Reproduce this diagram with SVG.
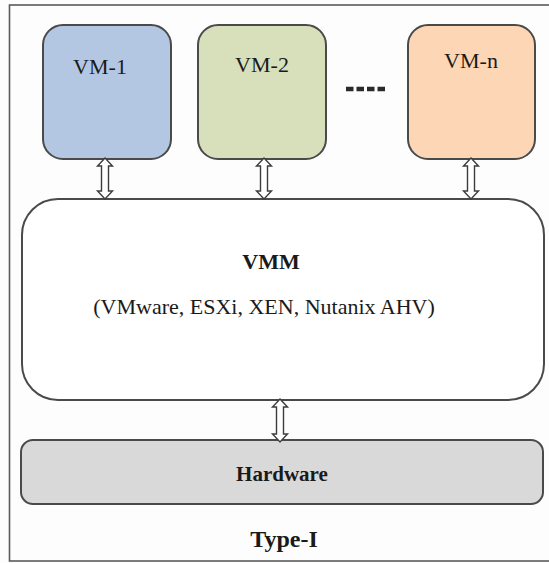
<svg xmlns="http://www.w3.org/2000/svg" xmlns:xlink="http://www.w3.org/1999/xlink" width="549" height="563" viewBox="0 0 549 563">
  <style>
    .box { stroke: #4a4a4a; stroke-width: 2; }
    .lbl { font-family: "Liberation Serif", "Times New Roman", serif; font-size: 22px; fill: #1a1a1a; text-anchor: middle; }
    .bold { font-weight: bold; }
    .arrow { fill: #ffffff; stroke: #3c3c3c; stroke-width: 1.4; stroke-linejoin: miter; }
  </style>
  <defs>
    <!-- hollow double-headed arrow, origin at top tip -->
    <path id="dbl41" d="M0,0 L7.5,8 L3.5,8 L3.5,33 L7.5,33 L0,41 L-7.5,33 L-3.5,33 L-3.5,8 L-7.5,8 Z"/>
    <path id="dbl43" d="M0,0 L7.5,8 L3.5,8 L3.5,35 L7.5,35 L0,43 L-7.5,35 L-3.5,35 L-3.5,8 L-7.5,8 Z"/>
  </defs>

  <rect width="549" height="563" fill="#fdfdfd"/>
  <!-- outer frame -->
  <rect x="9.5" y="5" width="600" height="556" fill="none" stroke="#5a5a5a" stroke-width="1.6"/>

  <g id="vm-1">
    <rect class="box" x="43" y="25" width="128" height="134" rx="20" fill="#b4c7e2"/>
    <text class="lbl" x="100" y="74">VM-1</text>
  </g>
  <g id="vm-2">
    <rect class="box" x="198" y="25" width="128" height="134" rx="20" fill="#d8dfbb"/>
    <text class="lbl" x="262" y="72">VM-2</text>
  </g>
  <g id="ellipsis">
    <line x1="346" y1="89" x2="385" y2="89" stroke="#2a2a2a" stroke-width="4.5" stroke-dasharray="7.5 3"/>
  </g>
  <g id="vm-n">
    <rect class="box" x="408" y="25" width="127" height="134" rx="20" fill="#fdd6b5"/>
    <text class="lbl" x="471" y="68">VM-n</text>
  </g>

  <g id="vmm">
    <rect class="box" x="22" y="199" width="522" height="201" rx="36" fill="#ffffff"/>
    <text class="lbl bold" x="271" y="269">VMM</text>
    <text class="lbl" x="264" y="314">(VMware, ESXi, XEN, Nutanix AHV)</text>
  </g>

  <g id="hardware">
    <rect class="box" x="21" y="440" width="522" height="64" rx="12" fill="#d9d9d9"/>
    <text class="lbl bold" x="282" y="481" style="font-size:21px">Hardware</text>
  </g>

  <g id="caption">
    <text class="lbl bold" x="284" y="547" style="font-size:24px">Type-I</text>
  </g>

  <g id="connectors">
    <use xlink:href="#dbl41" class="arrow" x="105" y="158"/>
    <use xlink:href="#dbl41" class="arrow" x="264" y="158"/>
    <use xlink:href="#dbl41" class="arrow" x="471" y="158"/>
    <use xlink:href="#dbl43" class="arrow" x="280" y="399"/>
  </g>
</svg>
